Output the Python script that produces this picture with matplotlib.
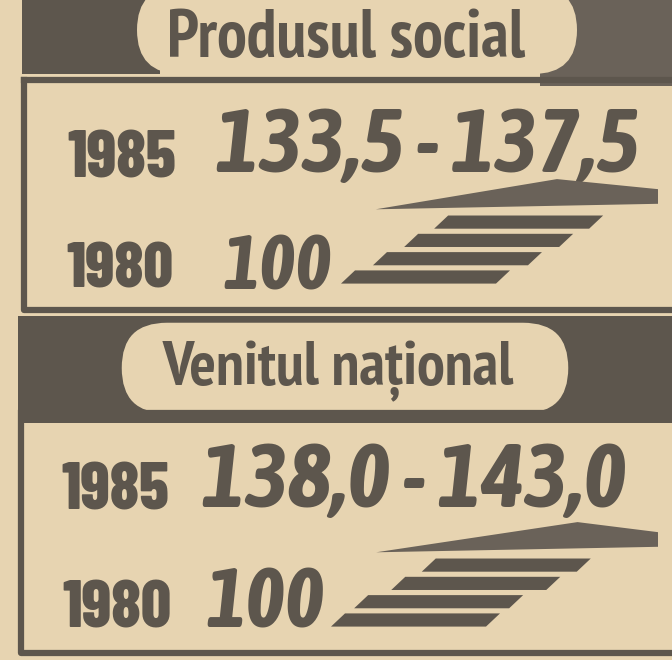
import numpy as np
import matplotlib
matplotlib.use("Agg")
import matplotlib.pyplot as plt
from matplotlib.patches import Rectangle, FancyBboxPatch, Polygon
from matplotlib.font_manager import FontProperties, fontManager
from matplotlib.textpath import TextPath

# --- data -----------------------------------------------------------------
titles = ["Produsul social", "Venitul național"]
base_year = "1980"
plan_year = "1985"
base_index = [100, 100]
plan_low = [133.5, 138.0]
plan_high = [137.5, 143.0]

# pictogram: stripe ends (index, bottom stripe = 1980) and the 1985 wedge
steps = [[100, 108.1, 116.0, 123.6],
         [100, 106.3, 116.4, 124.7]]
wedge_peak = [111.9, 121.1]
wedge_tip = [66.0, 66.3]

paper = "#E7D4B1"
ink = "#5D564D"
ink_light = "#6A6259"

W, H = 672, 660
fig = plt.figure(figsize=(W / 100, H / 100), dpi=100)
fig.patch.set_facecolor(paper)
ax = fig.add_axes([0, 0, 1, 1])
ax.set_xlim(0, W)
ax.set_ylim(H, 0)
ax.axis("off")

# condensed faces, picked by how close their proportions come to the print
have = {(f.name, f.style, f.weight) for f in fontManager.ttflist}
upright = [("PT Sans Narrow", 700), ("Barlow Condensed", 700), ("Saira Condensed", 700),
           ("Roboto Condensed", 700), ("Asap Condensed", 700)]
heavy = [("Barlow Condensed", 800), ("Barlow Condensed", 700), ("Saira Condensed", 800),
         ("Fjalla One", 400)]
italic = [("Asap Condensed", 700), ("Barlow Semi Condensed", 700), ("Roboto Condensed", 700),
          ("Barlow Condensed", 700)]


def ink_ext(s, fp):
    return TextPath((0, 0), s, size=100, prop=fp).get_extents()


def pick(cands, style, s, ref, target):
    best, err = None, 9
    for name, w in cands:
        if (name, style, w) not in have:
            continue
        fp = FontProperties(family=name, weight=w, style=style)
        a = ink_ext(s, fp).width / ink_ext(ref, fp).height
        if abs(np.log(a / target)) < err:
            best, err = fp, abs(np.log(a / target))
    if best is None:
        best = FontProperties(family="DejaVu Sans", weight="bold", style=style)
    return best


def fmt(v):
    return f"{v:.1f}".replace(".", ",")


def place(s, fp, x0, x1, base, height=None):
    # fit the ink of the text to the width (or to the height when given)
    e = ink_ext(s, fp)
    scale = height / e.height if height else (x1 - x0) / e.width
    ax.text(x0 - e.x0 * scale, base, s, fontproperties=fp, fontsize=scale * 100 * 0.72,
            ha="left", va="baseline", color=ink)


fp_title = pick(upright, "normal", titles[0], "P", 355 / 47)
fp_year = pick(heavy, "normal", "1985", "1985", 107 / 48)
fp_num = pick(italic, "italic", "133,5 - 137,5", "3", 420 / 67)

# layout of the two panels (pixels)
panels = [
    dict(band=[(22, -5, 138, 79, ink), (540, -5, 132, 91, ink_light)], pill=(137, -14, 440, 88),
         title=(170, 525, 57), box_top=80, box_bot=310, box_left=23.5, top_from=23.5,
         y85=(68, 175, 177), num=(217, 637, 172), y80=(67, 172, 288), base=(224, 313, 290, 55),
         pic_x=(330, 665), y0=277, x100=510),
    dict(band=[(18, 316, 654, 107, ink)], pill=(120, 321, 450, 94),
         title=(162, 515, 385), box_top=413, box_bot=653, box_left=21, top_from=140,
         y85=(62, 168, 510), num=(203, 625, 507), y80=(63, 170, 627), base=(207, 307, 627, 60),
         pic_x=(325, 665), y0=620, x100=500),
]

row_px = 18.3
bar_len_px = 155
slant_px = 14

for i, p in enumerate(panels):
    for (x, y, w, h, c) in p["band"]:
        ax.add_patch(Rectangle((x, y), w, h, color=c, lw=0))
    x, y, w, h = p["pill"]
    ax.add_patch(FancyBboxPatch((x, y), w, h, boxstyle=f"round,pad=0,rounding_size={h / 2}",
                                fc=paper, ec=ink if i == 1 else "none", lw=2.5))
    # box
    ax.plot([p["box_left"], p["box_left"], W], [p["box_top"], p["box_bot"], p["box_bot"]],
            color=ink, lw=4.5, solid_joinstyle="round")
    ax.plot([p["top_from"], W], [p["box_top"], p["box_top"]], color=ink, lw=4.5)

    place(titles[i], fp_title, *p["title"])
    place(plan_year, fp_year, *p["y85"])
    place(base_year, fp_year, *p["y80"])
    place(f"{fmt(plan_low[i])} - {fmt(plan_high[i])}", fp_num, *p["num"])
    place(f"{base_index[i]}", fp_num, *p["base"])

    # pictogram axes: x in index units, y in stripe rows
    k = (658 - p["x100"]) / (plan_high[i] - 100)
    xa, xb = p["pic_x"]
    top_px = p["y0"] - 5.8 * row_px
    bot_px = p["y0"] + 0.9 * row_px
    pax = fig.add_axes([xa / W, 1 - bot_px / H, (xb - xa) / W, (bot_px - top_px) / H])
    pax.set_xlim(100 + (xa - p["x100"]) / k, 100 + (xb - p["x100"]) / k)
    pax.set_ylim(-0.9, 5.8)
    pax.axis("off")
    L = bar_len_px / k
    s = slant_px / k
    for r, v in enumerate(steps[i]):
        pax.add_patch(Polygon([(v - L, r + 0.36), (v, r + 0.36), (v - s, r - 0.36), (v - L - s, r - 0.36)],
                              closed=True, fc=ink, ec="none"))
    pax.add_patch(Polygon([(wedge_tip[i], 3.7), (wedge_peak[i], 5.35), (plan_high[i], 4.8),
                           (plan_high[i], 4.0)], closed=True, fc=ink_light, ec="none"))

fig.savefig("out.png", dpi=100, facecolor=paper)
